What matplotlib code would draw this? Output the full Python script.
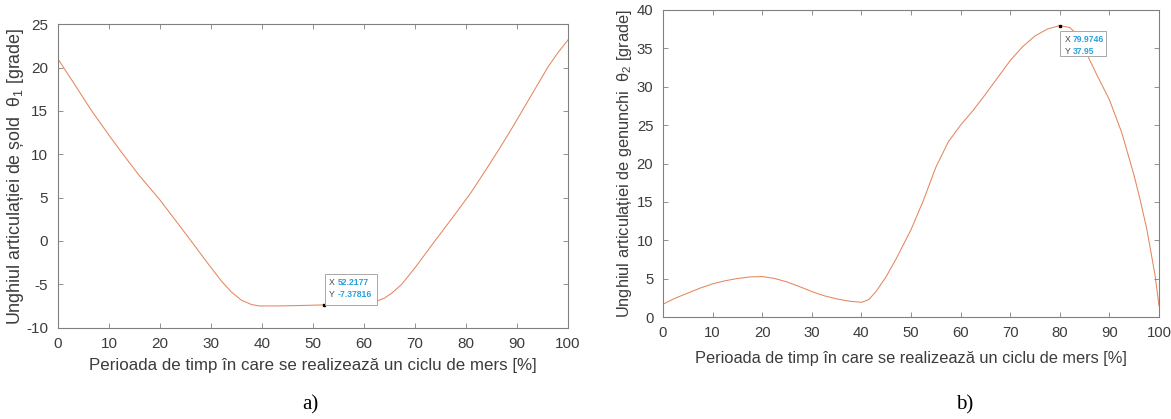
import matplotlib
matplotlib.use("Agg")
import matplotlib.pyplot as plt
from matplotlib.patches import Rectangle
from matplotlib.transforms import IdentityTransform

plt.rcParams['font.family'] = ['Liberation Sans', 'DejaVu Sans']
plt.rcParams['mathtext.fontset'] = 'custom'
plt.rcParams['mathtext.rm'] = 'Liberation Sans'
plt.rcParams['mathtext.it'] = 'Liberation Sans:italic'
plt.rcParams['axes.unicode_minus'] = False

# ---- data: hip angle theta1 ----
hip_x = [0, 3, 6.5, 10, 12.75, 16, 19.9, 23, 26.1, 29, 32, 34, 36, 38, 39.5,
         43, 47, 52.2177, 56, 60, 62.5, 64, 65.5, 67.4, 70, 73.9, 77.5, 81,
         84, 86.5, 89, 91.2, 93.7, 96.1, 98, 100]
hip_y = [21.0, 18.3, 15.1, 12.2, 10.0, 7.5, 4.8, 2.4, 0.0, -2.3, -4.6, -5.9,
         -6.85, -7.35, -7.5, -7.5, -7.46, -7.37816, -7.3, -7.2, -6.95, -6.6,
         -6.0, -5.0, -3.1, 0.0, 2.8, 5.6, 8.3, 10.6, 13.0, 15.2, 17.7, 20.1,
         21.7, 23.2]

# ---- data: knee angle theta2 ----
knee_x = [0, 2.5, 4.8, 7.5, 10, 12.5, 15, 17.5, 20, 22.5, 25, 27.5, 30, 32.5,
          35, 37.5, 40, 41.5, 43, 45, 47, 50, 52.5, 55, 57.5, 60, 62.5, 65,
          67.5, 70, 72.5, 75, 77.5, 79.9746, 82, 83.5, 85.7, 87.5, 90, 92.5,
          95, 96.3, 97.5, 98.3, 99.2, 100]
knee_y = [1.7, 2.5, 3.1, 3.8, 4.35, 4.75, 5.05, 5.25, 5.3, 5.05, 4.6, 4.0, 3.35,
          2.8, 2.4, 2.1, 1.95, 2.3, 3.4, 5.3, 7.6, 11.4, 15.2, 19.5, 22.8, 25.0,
          26.9, 29.0, 31.2, 33.4, 35.2, 36.6, 37.5, 37.95, 37.7, 36.8, 33.9,
          31.5, 28.3, 24.0, 18.4, 15.0, 11.6, 8.75, 5.5, 1.5]

hip_tip = (52.2177, -7.37816)
knee_tip = (79.9746, 37.95)

xticks = list(range(0, 101, 10))
hip_yticks = list(range(-10, 26, 5))
knee_yticks = list(range(0, 41, 5))

xlabel = "Perioada de timp în care se realizează un ciclu de mers [%]"
hip_ylabel = "Unghiul articulației de șold  θ$_{1}$ [grade]"
knee_ylabel = "Unghiul articulației de genunchi  θ$_{2}$ [grade]"

W, H = 1171, 419
fig = plt.figure(figsize=(W / 100, H / 100), dpi=100)
fig.patch.set_facecolor('white')

LINE_C = '#D95319'
AX_C = '#808080'
TXT_C = '#3c3c3c'


def px_axes(left, top, right, bottom):
    return [left / W, 1 - bottom / H, (right - left) / W, (bottom - top) / H]


ax1 = fig.add_axes(px_axes(58, 24.3, 568, 327.6))
ax2 = fig.add_axes(px_axes(663, 9.8, 1159, 317.3))


def style(ax, yticks, ylabel, xlab_y, ylab_x, tick_fs, xl_fs, yl_fs):
    ax.set_xlim(0, 100)
    ax.set_ylim(yticks[0], yticks[-1])
    ax.set_xticks(xticks)
    ax.set_yticks(yticks)
    for s in ax.spines.values():
        s.set_color(AX_C)
        s.set_linewidth(0.8)
    ax.tick_params(direction='in', length=3.5, width=0.6, color=AX_C,
                   top=True, right=True, labelsize=tick_fs, labelcolor=TXT_C)
    ax.tick_params(axis='x', pad=6.5)
    ax.tick_params(axis='y', pad=7)
    ax.set_xlabel(xlabel, fontsize=xl_fs, color=TXT_C)
    ax.set_ylabel(ylabel, fontsize=yl_fs, color=TXT_C)
    ax.xaxis.set_label_coords(0.5, xlab_y)
    ax.yaxis.set_label_coords(ylab_x, 0.5)


style(ax1, hip_yticks, hip_ylabel, -0.100, -0.0627, 11, 12.2, 12.9)
style(ax2, knee_yticks, knee_ylabel, -0.108, -0.0585, 10.7, 11.8, 11.8)

ax1.plot(hip_x, hip_y, color=LINE_C, lw=0.75, alpha=0.7)
ax2.plot(knee_x, knee_y, color=LINE_C, lw=0.75, alpha=0.7)


def datatip(ax, pt, dx, dy, w, h, xs, ys):
    ax.plot([pt[0]], [pt[1]], 's', color='black', ms=2, zorder=5)
    px, py = ax.transData.transform(pt)
    left = px + dx
    top = py - dy
    ident = IdentityTransform()
    rect = Rectangle((left, top - h), w, h, transform=ident, facecolor='white',
                     edgecolor='#a8a8a8', lw=0.7, zorder=6, clip_on=False)
    fig.add_artist(rect)
    for i, (lab, val) in enumerate([("X", xs), ("Y", ys)]):
        yy = top - 9 - i * 11.5
        fig.text(left + 4, yy, lab, transform=ident, fontsize=6.2,
                 color='#444444', va='center', ha='left', zorder=7)
        fig.text(left + 12.5, yy, val, transform=ident, fontsize=6.2,
                 color='#2aa0dc', fontweight='bold', va='center', ha='left',
                 zorder=7)


datatip(ax1, hip_tip, 0.5, -31, 51.7, 30.7, "52.2177", "-7.37816")
datatip(ax2, knee_tip, 0.7, 5, 46, 25, "79.9746", "37.95")

fig.text(310 / W, 1 - 405 / H, "a)", family='Liberation Serif', fontsize=15,
         ha='center', va='center', color='black')
fig.text(965 / W, 1 - 405 / H, "b)", family='Liberation Serif', fontsize=15,
         ha='center', va='center', color='black')

fig.savefig("out.png", dpi=100, facecolor='white')
